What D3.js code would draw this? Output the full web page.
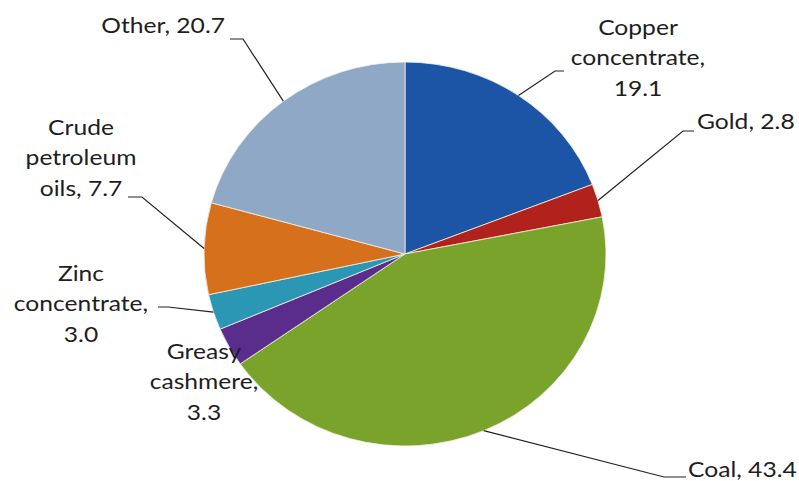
<!DOCTYPE html>
<html><head><meta charset="utf-8">
<script src="https://cdn.jsdelivr.net/npm/d3@7"></script>
<style>html,body{margin:0;padding:0;background:#fff;} svg{display:block;}</style>
</head><body>
<svg id="c" width="799" height="481"></svg>
<script>
const categories = ["Copper concentrate","Gold","Coal","Greasy cashmere","Zinc concentrate","Crude petroleum oils","Other"];
const values = [19.1, 2.8, 43.4, 3.3, 3.0, 7.7, 20.7];
const labelLines = [
  ["Copper","concentrate,","19.1"],
  ["Gold, 2.8"],
  ["Coal, 43.4"],
  ["Greasy","cashmere,","3.3"],
  ["Zinc","concentrate,","3.0"],
  ["Crude","petroleum","oils, 7.7"],
  ["Other, 20.7"]
];
const colors = ["#1c54a6","#b0221b","#79a32b","#5a2d8c","#2b97b5","#d6701c","#8ea8c6"];

const W = 799, H = 481;
const cx = 405, cy = 254, rx = 201, ry = 192;

// label layout: x, first baseline, anchor, leader start points
const layout = [
  {x:638, y:35, a:"middle", lead:[[564,71],[555,71]]},
  {x:697, y:129, a:"start", lead:[[694,131],[683,131]]},
  {x:688, y:477, a:"start", lead:[[686,477],[664,477]]},
  {x:204, y:359, a:"middle", lead:null},
  {x:81, y:281, a:"middle", lead:[[158,307],[168,307]]},
  {x:81, y:135, a:"middle", lead:[[128,197],[142,197]]},
  {x:225, y:33, a:"end", lead:[[230,39],[243,39]]}
];
const lineH = 30.5;
const sx = 1.12;

const svg = d3.select("#c");
const pie = d3.pie().sort(null).value(d => d);
const arcs = pie(values);
const arc = d3.arc().innerRadius(0).outerRadius(rx);

const g = svg.append("g").attr("transform", `translate(${cx},${cy}) scale(1,${ry/rx})`);
g.selectAll("path").data(arcs).join("path")
  .attr("d", arc)
  .attr("fill", (d,i) => colors[i])
  .attr("stroke", "#f4f1e4")
  .attr("stroke-width", 0.8)
  .attr("vector-effect","non-scaling-stroke");

// leader lines
const edgePt = d => {
  const a = (d.startAngle + d.endAngle) / 2;
  return [cx + rx * Math.sin(a), cy - ry * Math.cos(a)];
};
const line = d3.line();
arcs.forEach((d,i) => {
  const L = layout[i];
  if (!L.lead) return;
  const pts = L.lead.concat([edgePt(d)]);
  svg.append("path").attr("d", line(pts))
    .attr("fill","none").attr("stroke","#222").attr("stroke-width",1.2);
});

// labels
arcs.forEach((d,i) => {
  const L = layout[i];
  const t = svg.append("g")
    .attr("transform", `translate(${L.x},${L.y}) scale(${sx},1)`)
    .append("text")
    .attr("text-anchor", L.a)
    .attr("font-family", "Lato, 'Open Sans', sans-serif")
    .attr("font-size", 22)
    .attr("fill", "#1e1e1e");
  labelLines[i].forEach((s,k) => {
    t.append("tspan").attr("x", 0).attr("y", k*lineH).text(s);
  });
});
</script>
</body></html>
